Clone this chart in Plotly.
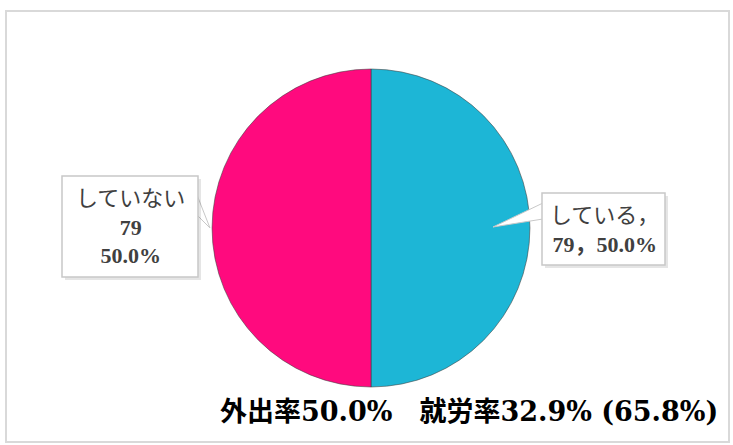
import plotly.graph_objects as go

# Data
labels = ["している", "していない"]
values = [79, 79]
colors = ["#1DB6D6", "#FF0A7E"]
pct_labels = ["50.0%", "50.0%"]
footer_text = "外出率50.0%　就労率32.9% (65.8%)"

W, H = 733, 445


def px(x):
    return x / W


def py(y):
    return 1 - y / H


fig = go.Figure()
fig.add_trace(go.Pie(
    labels=labels,
    values=values,
    sort=False,
    direction="clockwise",
    rotation=0,
    marker=dict(colors=colors, line=dict(color="rgba(60,60,60,0.55)", width=1)),
    textinfo="none",
    hoverinfo="label+value+percent",
    showlegend=False,
    domain=dict(x=[px(212), px(530)], y=[py(387), py(69)]),
))

shapes = []
# outer frame
shapes.append(dict(type="rect", xref="paper", yref="paper",
                   x0=px(6), x1=px(729), y0=py(442), y1=py(11),
                   line=dict(color="#D9D9D9", width=2), fillcolor="rgba(0,0,0,0)", layer="below"))

def box(x0, y0, x1, y1):
    # shadow
    shapes.append(dict(type="rect", xref="paper", yref="paper",
                       x0=px(x0 + 3), x1=px(x1 + 3), y0=py(y1 + 3), y1=py(y0 + 3),
                       line=dict(width=0), fillcolor="rgba(0,0,0,0.10)"))
    shapes.append(dict(type="rect", xref="paper", yref="paper",
                       x0=px(x0), x1=px(x1), y0=py(y1), y1=py(y0),
                       line=dict(color="#C8C8C8", width=1.5), fillcolor="white"))

def wedge(pts):
    path = "M " + " L ".join(f"{px(x):.5f},{py(y):.5f}" for x, y in pts) + " Z"
    shapes.append(dict(type="path", xref="paper", yref="paper", path=path,
                       line=dict(color="#C8C8C8", width=1), fillcolor="white"))

# right label box and pointer
wedge([(543, 203), (493, 227), (543, 219)])
box(542, 193, 665, 265)
# left label box and pointer
wedge([(197, 195), (210, 228), (197, 215)])
box(62, 176, 198, 277)

label_font = dict(family="Liberation Serif, Noto Sans CJK JP, serif", size=22, color="#404040")

annotations = [
    dict(x=px(130), y=py(227), xref="paper", yref="paper", showarrow=False,
         text=f"{labels[1]}<br><b>{values[1]}</b><br><b>{pct_labels[1]}</b>",
         font=label_font, align="center", xanchor="center", yanchor="middle"),
    dict(x=px(604), y=py(230), xref="paper", yref="paper", showarrow=False,
         text=f"{labels[0]}，<br><b>{values[0]}，{pct_labels[0]}</b>",
         font=label_font, align="center", xanchor="center", yanchor="middle"),
    dict(x=px(469), y=py(411), xref="paper", yref="paper", showarrow=False,
         text=f"<b>{footer_text}</b>",
         font=dict(family="DejaVu Serif, Noto Sans CJK JP, serif", size=27, color="black"),
         xanchor="center", yanchor="middle"),
]

fig.update_layout(
    width=W, height=H,
    margin=dict(l=0, r=0, t=0, b=0),
    paper_bgcolor="white", plot_bgcolor="white",
    shapes=shapes,
    annotations=annotations,
    showlegend=False,
)

fig.write_html("out.html", config={"displayModeBar": False},
               post_script="document.body.style.margin='0';")
